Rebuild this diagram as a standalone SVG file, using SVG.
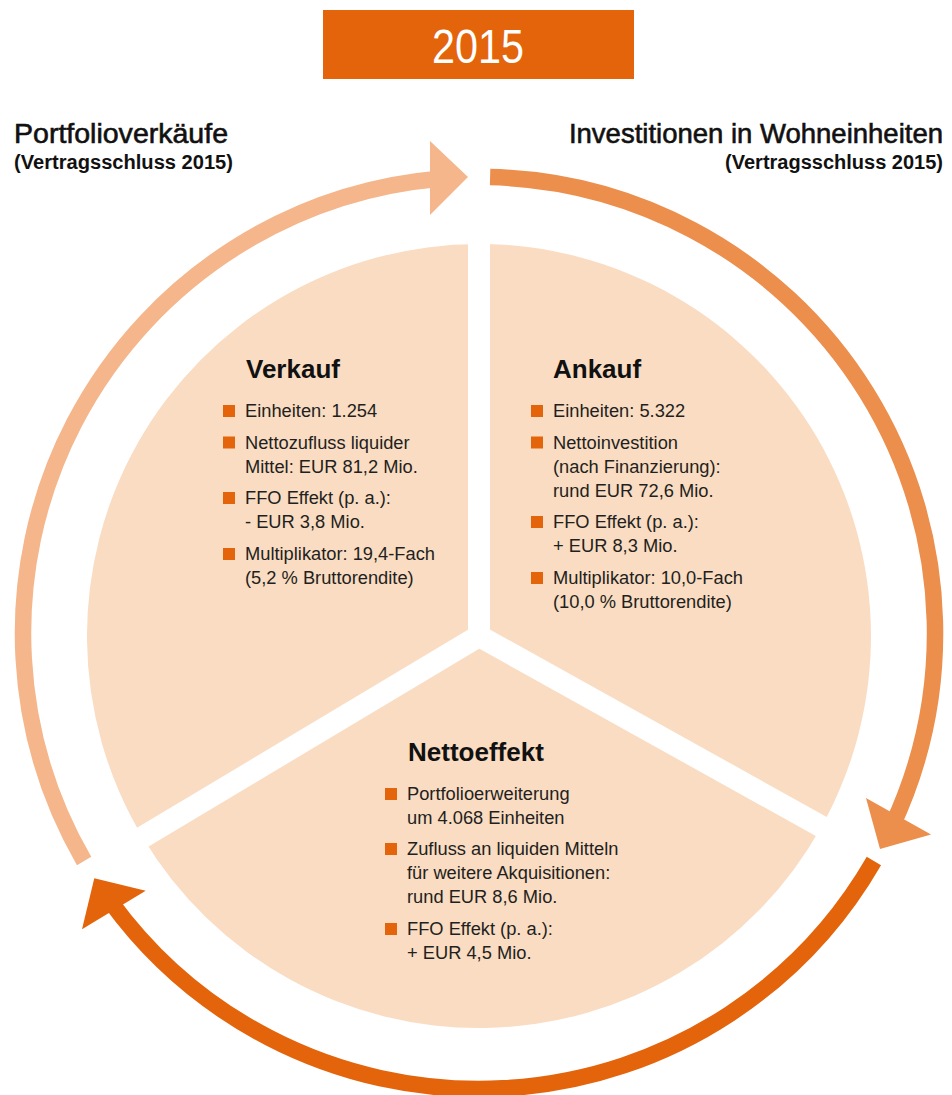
<svg xmlns="http://www.w3.org/2000/svg" width="952" height="1095" viewBox="0 0 952 1095">
  <style>
    .sector { fill: #F9DCC2; }
    .head { font-family: "Liberation Sans", Arial, sans-serif; font-weight: bold; font-size: 26px; fill: #111111; }
    .body { font-family: "Liberation Sans", Arial, sans-serif; font-size: 18.3px; fill: #231F20; }
    .bullet { fill: #E3640B; }
    .hdr { font-family: "Liberation Sans", Arial, sans-serif; font-size: 27.5px; fill: #111111; stroke: #111111; stroke-width: 0.6px; }
    .sub { font-family: "Liberation Sans", Arial, sans-serif; font-weight: bold; font-size: 20px; fill: #111111; }
    .arc { fill: none; stroke-width: 16.5; stroke-linecap: butt; }
  </style>
  <defs>
    <mask id="gaps" maskUnits="userSpaceOnUse" x="0" y="0" width="952" height="1095">
      <rect x="0" y="0" width="952" height="1095" fill="#fff"/>
      <g stroke="#000" stroke-width="22" stroke-linecap="butt">
        <line x1="479" y1="636" x2="479" y2="200"/>
        <line x1="479" y1="636" x2="854.7" y2="845.1"/>
        <line x1="479" y1="636" x2="110" y2="856.8"/>
      </g>
      <circle cx="479" cy="636" r="11" fill="#000"/>
    </mask>
  </defs>

  <rect width="952" height="1095" fill="#ffffff"/>

  <g id="title">
    <rect x="323" y="10" width="311" height="69" fill="#E3640B"/>
    <text x="432" y="62.5" font-family="Liberation Sans, Arial, sans-serif" font-size="48" fill="#ffffff" textLength="92" lengthAdjust="spacingAndGlyphs">2015</text>
  </g>

  <g id="label-portfolioverkaeufe">
    <text class="hdr" x="14" y="143" textLength="214" lengthAdjust="spacingAndGlyphs">Portfolioverkäufe</text>
    <text class="sub" x="14" y="168.5" textLength="219" lengthAdjust="spacingAndGlyphs">(Vertragsschluss 2015)</text>
  </g>

  <g id="label-investitionen">
    <text class="hdr" x="943" y="143" text-anchor="end">Investitionen in Wohneinheiten</text>
    <text class="sub" x="943" y="168.5" text-anchor="end">(Vertragsschluss 2015)</text>
  </g>

  <g id="node-verkauf">
    <path class="sector" mask="url(#gaps)" d="M479,636 L142.6,837.3 A392,392 0 0 1 479,244 Z"/>
    <text class="head" x="246" y="378">Verkauf</text>
    <rect class="bullet" x="223" y="405" width="12" height="12"/>
    <rect class="bullet" x="223" y="436.5" width="12" height="12"/>
    <rect class="bullet" x="223" y="492" width="12" height="12"/>
    <rect class="bullet" x="223" y="548" width="12" height="12"/>
    <text class="body">
      <tspan x="245" y="417">Einheiten: 1.254</tspan>
      <tspan x="245" y="448.5">Nettozufluss liquider</tspan>
      <tspan x="245" y="472.5">Mittel: EUR 81,2 Mio.</tspan>
      <tspan x="245" y="504">FFO Effekt (p. a.):</tspan>
      <tspan x="245" y="528">- EUR 3,8 Mio.</tspan>
      <tspan x="245" y="560">Multiplikator: 19,4-Fach</tspan>
      <tspan x="245" y="584">(5,2 % Bruttorendite)</tspan>
    </text>
  </g>

  <g id="node-ankauf">
    <path class="sector" mask="url(#gaps)" d="M479,636 L479,244 A392,392 0 0 1 821.5,826.6 Z"/>
    <text class="head" x="553" y="378">Ankauf</text>
    <rect class="bullet" x="531" y="405" width="12" height="12"/>
    <rect class="bullet" x="531" y="436.5" width="12" height="12"/>
    <rect class="bullet" x="531" y="516" width="12" height="12"/>
    <rect class="bullet" x="531" y="572" width="12" height="12"/>
    <text class="body">
      <tspan x="553" y="417">Einheiten: 5.322</tspan>
      <tspan x="553" y="448.5">Nettoinvestition</tspan>
      <tspan x="553" y="472.5">(nach Finanzierung):</tspan>
      <tspan x="553" y="496.5">rund EUR 72,6 Mio.</tspan>
      <tspan x="553" y="528">FFO Effekt (p. a.):</tspan>
      <tspan x="553" y="552">+ EUR 8,3 Mio.</tspan>
      <tspan x="553" y="584">Multiplikator: 10,0-Fach</tspan>
      <tspan x="553" y="608">(10,0 % Bruttorendite)</tspan>
    </text>
  </g>

  <g id="node-nettoeffekt">
    <path class="sector" mask="url(#gaps)" d="M479,636 L821.5,826.6 A392,392 0 0 1 142.6,837.3 Z"/>
    <text class="head" x="408" y="761">Nettoeffekt</text>
    <rect class="bullet" x="385" y="788" width="12" height="12"/>
    <rect class="bullet" x="385" y="843" width="12" height="12"/>
    <rect class="bullet" x="385" y="923" width="12" height="12"/>
    <text class="body">
      <tspan x="407" y="800">Portfolioerweiterung</tspan>
      <tspan x="407" y="824">um 4.068 Einheiten</tspan>
      <tspan x="407" y="855">Zufluss an liquiden Mitteln</tspan>
      <tspan x="407" y="879">für weitere Akquisitionen:</tspan>
      <tspan x="407" y="903">rund EUR 8,6 Mio.</tspan>
      <tspan x="407" y="935">FFO Effekt (p. a.):</tspan>
      <tspan x="407" y="959">+ EUR 4,5 Mio.</tspan>
    </text>
  </g>

  <g id="connectors">
    <g id="arrow-verkauf-to-ankauf">
      <path class="arc" stroke="#F4B68A" d="M84.1,861 A456,456 0 0 1 439.3,178.7"/>
      <polygon fill="#F4B68A" points="430,141 430,215 468,177"/>
    </g>
    <g id="arrow-ankauf-to-nettoeffekt">
      <path class="arc" stroke="#EC8E4C" d="M490.1,177.1 A456,456 0 0 1 892.3,825.7"/>
      <polygon fill="#EC8E4C" points="866,798 931,834.5 880,849"/>
    </g>
    <g id="arrow-nettoeffekt-to-verkauf">
      <path class="arc" stroke="#E3640B" d="M873.9,861 A456,456 0 0 1 110.1,901"/>
      <polygon fill="#E3640B" points="94.3,878.3 145.7,890.7 82,929.3"/>
    </g>
  </g>
</svg>
